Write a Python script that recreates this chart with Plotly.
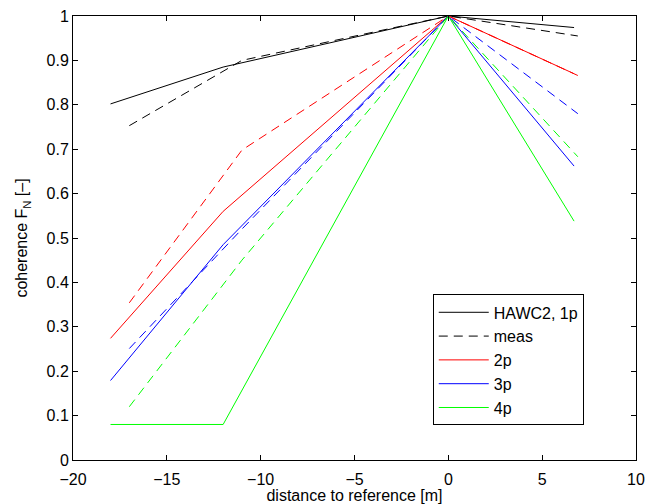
import plotly.graph_objects as go

# HAWC2 (solid) distances and coherence
x_hawc2 = [-18, -12, 0, 6.7]
hawc2_1p = [0.802, 0.885, 1.0, 0.974]
hawc2_2p = [0.274, 0.560, 1.0, 0.870]
hawc2_3p = [0.179, 0.485, 1.0, 0.662]
hawc2_4p = [0.080, 0.080, 1.0, 0.538]

# measurements (dashed)
x_meas = [-17, -11, 0, 6.9]
meas_1p = [0.753, 0.900, 1.0, 0.955]
meas_2p = [0.354, 0.698, 1.0, 0.866]
meas_3p = [0.251, 0.520, 1.0, 0.780]
meas_4p = [0.120, 0.450, 1.0, 0.683]

x_ticks = [-20, -15, -10, -5, 0, 5, 10]
y_ticks = [0, 0.1, 0.2, 0.3, 0.4, 0.5, 0.6, 0.7, 0.8, 0.9, 1]

black, red, blue, green = "#000000", "#ff0000", "#0000ff", "#00ff00"
dash = "9px,6px"

fig = go.Figure()
fig.add_trace(go.Scatter(x=x_hawc2, y=hawc2_1p, mode="lines", name="HAWC2, 1p",
                         line=dict(color=black, width=1)))
fig.add_trace(go.Scatter(x=x_meas, y=meas_1p, mode="lines", name="meas",
                         line=dict(color=black, width=1, dash=dash)))
fig.add_trace(go.Scatter(x=x_hawc2, y=hawc2_2p, mode="lines", name="2p",
                         line=dict(color=red, width=1)))
fig.add_trace(go.Scatter(x=x_meas, y=meas_2p, mode="lines", showlegend=False,
                         line=dict(color=red, width=1, dash=dash)))
fig.add_trace(go.Scatter(x=x_hawc2, y=hawc2_3p, mode="lines", name="3p",
                         line=dict(color=blue, width=1)))
fig.add_trace(go.Scatter(x=x_meas, y=meas_3p, mode="lines", showlegend=False,
                         line=dict(color=blue, width=1, dash=dash)))
fig.add_trace(go.Scatter(x=x_hawc2, y=hawc2_4p, mode="lines", name="4p",
                         line=dict(color=green, width=1)))
fig.add_trace(go.Scatter(x=x_meas, y=meas_4p, mode="lines", showlegend=False,
                         line=dict(color=green, width=1, dash=dash)))

axis_common = dict(showgrid=False, zeroline=False, showline=True, linecolor="black",
                   linewidth=1, mirror="allticks", ticks="inside", ticklen=5,
                   tickcolor="black", automargin=False,
                   tickfont=dict(size=16, color="black"))

fig.update_layout(
    width=645, height=504,
    margin=dict(l=73, r=9, t=16, b=44),
    paper_bgcolor="white", plot_bgcolor="white",
    font=dict(family="Liberation Sans, Arial, sans-serif", size=16, color="black"),
    xaxis=dict(range=[-20, 10], tickvals=x_ticks, ticklabelstandoff=5, **axis_common,
               title=dict(text="distance to reference [m]", standoff=0,
                          font=dict(size=16))),
    yaxis=dict(range=[0, 1], tickvals=y_ticks, **axis_common,
               title=dict(text="coherence F<sub>N</sub> [\u2013]", standoff=14,
                          font=dict(size=16))),
    legend=dict(x=0.639, y=0.373, xanchor="left", yanchor="top",
                bordercolor="black", borderwidth=1, bgcolor="white",
                font=dict(size=16), itemwidth=50, tracegroupgap=0),
    showlegend=True,
)

fig.write_html(
    "out.html",
    config={"displayModeBar": False},
    post_script="document.body.style.margin='0';document.body.style.overflow='hidden';",
)
